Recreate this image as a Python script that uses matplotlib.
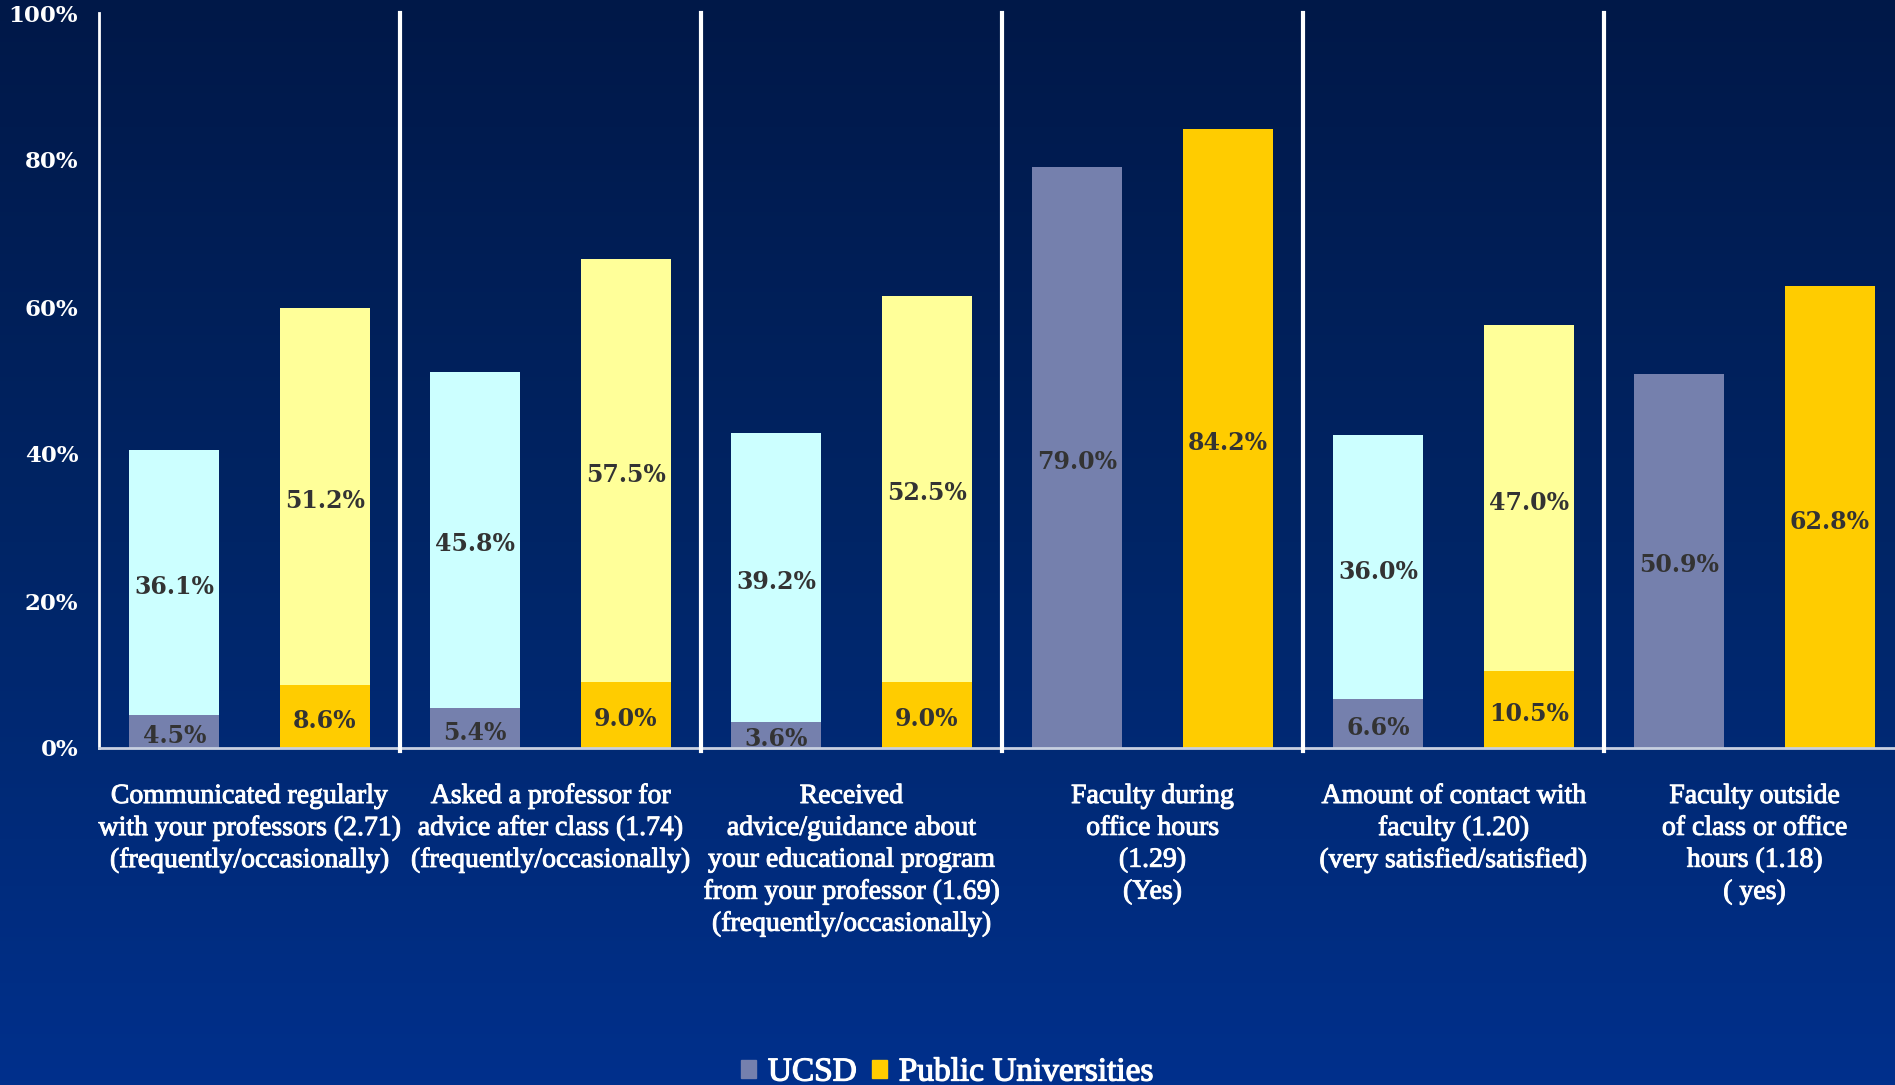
import numpy as np
import matplotlib
matplotlib.use("Agg")
import matplotlib.pyplot as plt
import matplotlib.patheffects as pe
from matplotlib.patches import Patch
from matplotlib.colors import LinearSegmentedColormap

categories = [
    "Communicated regularly\nwith your professors (2.71)\n(frequently/occasionally)",
    "Asked a professor for\nadvice after class (1.74)\n(frequently/occasionally)",
    "Received\nadvice/guidance about\nyour educational program\nfrom your professor (1.69)\n(frequently/occasionally)",
    "Faculty during\noffice hours\n(1.29)\n(Yes)",
    "Amount of contact with\nfaculty (1.20)\n(very satisfied/satisfied)",
    "Faculty outside\nof class or office\nhours (1.18)\n( yes)",
]
# bottom segment (strong response) and top segment (secondary response); 0 = no top segment
ucsd_bottom = [4.5, 5.4, 3.6, 79.0, 6.6, 50.9]
ucsd_top = [36.1, 45.8, 39.2, 0.0, 36.0, 0.0]
public_bottom = [8.6, 9.0, 9.0, 84.2, 10.5, 62.8]
public_top = [51.2, 57.5, 52.5, 0.0, 47.0, 0.0]
yticks = [0, 20, 40, 60, 80, 100]
series_names = ["UCSD", "Public Universities"]

C_UCSD = "#7580AD"
C_UCSD_L = "#CCFFFF"
C_PUB = "#FFCC00"
C_PUB_L = "#FFFF99"
TXT = "#333333"

W, H = 1895, 1085
fig = plt.figure(figsize=(W / 100, H / 100), dpi=100)

# background gradient
bg = fig.add_axes([0, 0, 1, 1], zorder=-10)
cmap = LinearSegmentedColormap.from_list("bg", ["#001848", "#002566", "#00308C"])
grad = np.linspace(0, 1, 256).reshape(-1, 1)
bg.imshow(grad, aspect="auto", cmap=cmap, extent=[0, 1, 0, 1], origin="upper")
bg.set_axis_off()

left = 99 / W
bottom = (H - 748) / H
height = (748 - 13) / H
width = 6 * 301 / W
ax = fig.add_axes([left, bottom, width, height])
ax.set_facecolor("none")

x = np.arange(len(categories))
bw = 0.30
off = 0.25

ax.bar(x - off, ucsd_bottom, bw, color=C_UCSD, zorder=2)
ax.bar(x - off, ucsd_top, bw, bottom=ucsd_bottom, color=C_UCSD_L, zorder=2)
ax.bar(x + off, public_bottom, bw, color=C_PUB, zorder=2)
ax.bar(x + off, public_top, bw, bottom=public_bottom, color=C_PUB_L, zorder=2)

thick = [pe.withStroke(linewidth=0.7, foreground="white")]

lab_kw = dict(ha="center", va="center", fontsize=17, fontweight="bold",
              family="DejaVu Serif", color=TXT, zorder=4)
dy = -0.6
for i in range(len(categories)):
    for xc, b, t in ((x[i] - off, ucsd_bottom[i], ucsd_top[i]),
                     (x[i] + off, public_bottom[i], public_top[i])):
        ax.text(xc, b / 2 + dy, f"{b:.1f}%", **lab_kw)
        if t > 0:
            ax.text(xc, b + t / 2 + dy, f"{t:.1f}%", **lab_kw)
    ax.text(x[i], -4.9, categories[i], ha="center", va="top", fontsize=20,
            family="Liberation Serif", color="white", linespacing=1.36,
            path_effects=thick)

ax.set_xlim(-0.5, len(categories) - 0.5)
ax.set_ylim(0, 100)
ax.set_xticks([])
ax.set_yticks(yticks)
ax.set_yticklabels([f"{v}%" for v in yticks], fontsize=16.5, fontweight="bold",
                   family="DejaVu Serif", color="white")
ax.tick_params(axis="y", length=0, pad=15)

for s in ("top", "right"):
    ax.spines[s].set_visible(False)
ax.spines["left"].set_color("white")
ax.spines["left"].set_linewidth(2)
ax.spines["bottom"].set_color("#C8D0E0")
ax.spines["bottom"].set_linewidth(2)

for d in np.arange(0.5, len(categories) - 0.5, 1):
    ax.axvline(d, ymin=-0.004, ymax=1.0, color="white", lw=3, clip_on=False, zorder=3)

handles = [Patch(color=C_UCSD), Patch(color=C_PUB)]
leg = fig.legend(handles, series_names, loc="lower center", bbox_to_anchor=(0.5, -0.03),
                 ncol=2, frameon=False, handlelength=0.45, handleheight=0.45,
                 handletextpad=0.35, columnspacing=0.45,
                 prop=dict(family="Liberation Serif", size=24), labelcolor="white")
for t in leg.get_texts():
    t.set_path_effects([pe.withStroke(linewidth=0.9, foreground="white")])

fig.savefig("out.png", dpi=100)
